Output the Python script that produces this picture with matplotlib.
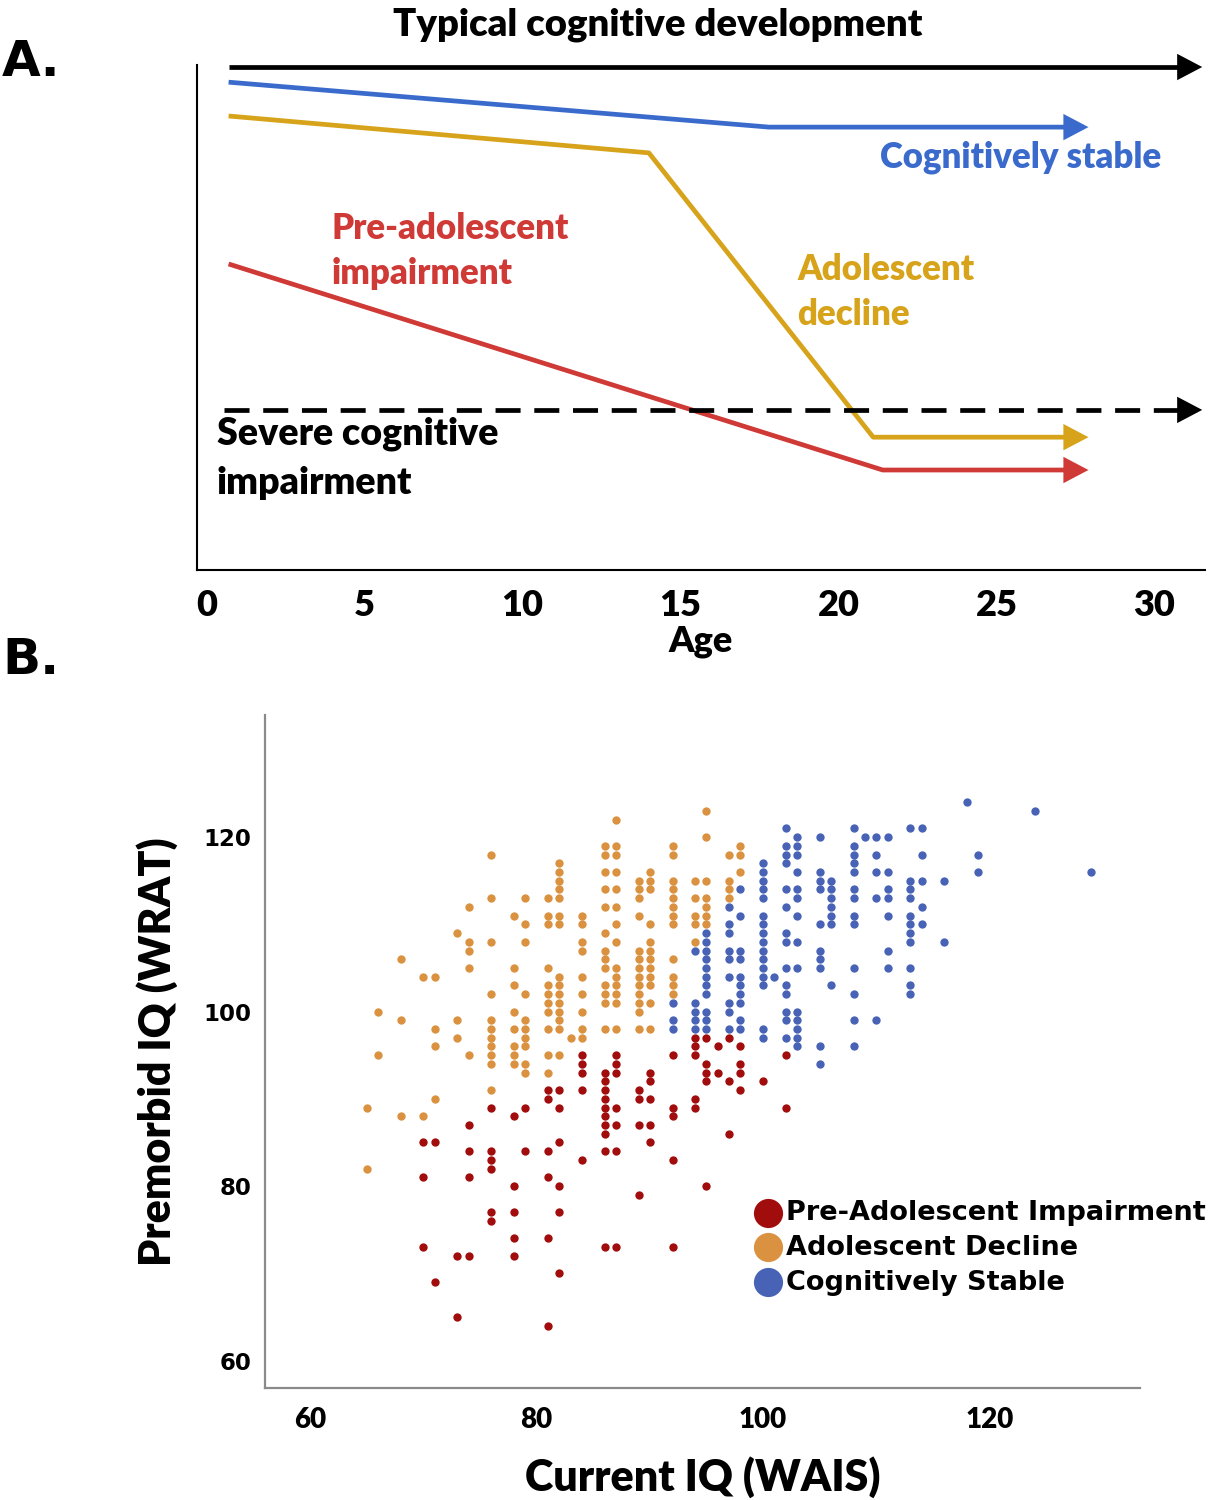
import matplotlib
matplotlib.use("Agg")
import matplotlib.pyplot as plt
import numpy as np

# ---------------- Panel A data (schematic trajectories) ----------------
age_ticks = [0, 5, 10, 15, 20, 25, 30]
typical_age = [0.7, 31.6]
typical_score = [99.6, 99.6]
stable_age = [0.7, 17.8, 28.0]
stable_score = [96.6, 87.7, 87.7]
adol_age = [0.7, 14.0, 21.1, 28.0]
adol_score = [89.9, 82.6, 26.3, 26.3]
pre_age = [0.7, 21.4, 28.0]
pre_score = [60.6, 19.8, 19.8]
severe_age = [0.55, 31.6]
severe_score = [31.7, 31.7]

# ---------------- Panel B data (current IQ -> list of premorbid IQs) ----------------
orange_cols = {
    65: [89, 82], 66: [100, 95], 68: [106, 99, 88], 70: [104, 88],
    71: [104, 98, 96, 90], 73: [109, 99, 97], 74: [112, 108, 107, 105, 95],
    76: [118, 113, 108, 102, 99, 98, 97, 96, 95, 94, 91],
    78: [111, 105, 103, 100, 98, 96, 95, 94],
    79: [113, 110, 108, 102, 99, 98, 97, 96, 94, 93],
    81: [113, 111, 110, 105, 103, 102, 101, 100, 98, 95, 93],
    82: [117, 116, 115, 114, 113, 111, 110, 104, 103, 102, 101, 100, 99, 98, 95],
    83: [97],
    84: [111, 110, 108, 107, 104, 102, 100, 98, 97],
    86: [119, 118, 116, 114, 112, 109, 107, 106, 105, 103, 102, 101, 98],
    87: [122, 119, 118, 116, 114, 112, 110, 108, 105, 104, 103, 102, 101, 98],
    89: [115, 114, 113, 111, 107, 106, 105, 104, 103, 102, 101, 100, 98],
    90: [116, 115, 114, 110, 108, 107, 106, 105, 104, 103, 101, 98],
    92: [119, 118, 115, 114, 113, 112, 111, 110, 106, 104, 103, 102],
    94: [115, 113, 111, 110, 108],
    95: [123, 120, 115, 113, 112, 111, 110],
    97: [118, 115, 114, 113],
    98: [119, 118, 116],
}
red_cols = {
    70: [85, 81, 73], 71: [85, 69], 73: [72, 65], 74: [87, 84, 81, 72],
    76: [89, 84, 83, 82, 77, 76], 78: [88, 80, 77, 74, 72], 79: [89, 84],
    81: [91, 90, 84, 81, 74, 64], 82: [91, 89, 85, 80, 77, 70],
    84: [95, 94, 93, 91, 83],
    86: [93, 92, 91, 90, 89, 88, 87, 86, 84, 73],
    87: [95, 94, 93, 89, 87, 84, 73], 89: [91, 90, 87, 79],
    90: [93, 92, 90, 87, 85], 92: [95, 89, 88, 83, 73],
    94: [97, 96, 95, 90, 89], 95: [97, 94, 93, 92, 80], 96: [96, 93],
    97: [97, 92, 86], 98: [96, 94, 93, 91], 100: [92], 102: [95, 89],
}
blue_cols = {
    92: [101, 99, 98], 94: [107, 101, 100, 99, 98],
    95: [109, 108, 107, 106, 105, 104, 103, 102, 100, 99, 98],
    97: [112, 110, 109, 107, 106, 104, 101, 100, 98],
    98: [114, 111, 107, 106, 104, 103, 102, 101, 99, 98],
    100: [117, 116, 115, 114, 113, 111, 110, 109, 108, 107, 106, 105, 104, 103, 98, 97],
    101: [104],
    102: [121, 119, 118, 117, 114, 112, 109, 108, 105, 103, 102, 100, 99, 97],
    103: [120, 119, 118, 116, 114, 113, 111, 108, 105, 100, 99, 98, 97, 96],
    105: [120, 116, 115, 114, 110, 107, 106, 105, 96, 94],
    106: [115, 114, 113, 112, 111, 110, 103],
    108: [121, 119, 118, 117, 116, 114, 113, 111, 110, 105, 102, 99, 96],
    109: [120], 110: [120, 118, 116, 113, 99],
    111: [120, 116, 114, 113, 111, 107, 105],
    113: [121, 115, 114, 113, 111, 110, 109, 108, 105, 103, 102],
    114: [121, 118, 115, 112, 110], 116: [115, 108], 118: [124],
    119: [118, 116], 124: [123], 129: [116],
}
iq_ticks = [60, 80, 100, 120]
group_labels = ["Pre-Adolescent Impairment", "Adolescent Decline", "Cognitively Stable"]


def flatten(cols):
    xs, ys = [], []
    for k, vals in cols.items():
        for v in vals:
            xs.append(k)
            ys.append(v)
    return np.array(xs), np.array(ys)


C_BLUE_A = "#3a6bcc"
C_GOLD_A = "#d6a31a"
C_RED_A = "#cf3a36"
C_RED_B = "#a10d0d"
C_ORANGE_B = "#da9240"
C_BLUE_B = "#4863b6"

FONT_A = "Lato"
W = "heavy"

fig = plt.figure(figsize=(12.22, 15.0), dpi=100)
fig.patch.set_facecolor("white")

# ---------------- Panel A ----------------
axA = fig.add_axes([197 / 1222, 1 - 570 / 1500, (1205 - 197) / 1222, (570 - 65) / 1500])
axA.set_xlim(-0.30, 31.6)
axA.set_ylim(0, 100)
for s in ["top", "right"]:
    axA.spines[s].set_visible(False)
axA.spines["left"].set_linewidth(1.5)
axA.spines["bottom"].set_linewidth(1.5)
axA.set_yticks([])
axA.set_xticks(age_ticks)
axA.tick_params(axis="x", length=0, pad=14)
for lab in axA.get_xticklabels():
    lab.set_fontfamily(FONT_A)
    lab.set_fontweight(W)
    lab.set_fontsize(26)
axA.set_xlabel("Age", fontfamily=FONT_A, fontweight=W, fontsize=26, labelpad=2)


def arrow_line(ax, xs, ys, color, dashes=None):
    kw = dict(color=color, lw=3.4, solid_capstyle="butt", zorder=3)
    px = xs[:-1] + [xs[-1] - 0.45]
    if dashes is not None:
        ax.plot(px, ys, dashes=dashes, **kw)
    else:
        ax.plot(px, ys, **kw)
    ax.annotate("", xy=(xs[-1], ys[-1]), xytext=(xs[-1] - 0.8, ys[-1]),
                arrowprops=dict(arrowstyle="-|>,head_length=0.95,head_width=0.5",
                                color=color, lw=0, mutation_scale=19),
                zorder=4, annotation_clip=False)


arrow_line(axA, typical_age, typical_score, "black")
arrow_line(axA, stable_age, stable_score, C_BLUE_A)
arrow_line(axA, adol_age, adol_score, C_GOLD_A)
arrow_line(axA, pre_age, pre_score, C_RED_A)
arrow_line(axA, severe_age, severe_score, "black", dashes=(5.3, 2.9))

fig.text(658 / 1222, 1 - 25 / 1500, "Typical cognitive development", ha="center", va="center",
         fontfamily=FONT_A, fontweight=W, fontsize=27.5)
fig.text(880 / 1222, 1 - 157 / 1500, "Cognitively stable", ha="left", va="center",
         fontfamily=FONT_A, fontweight=W, fontsize=25, color=C_BLUE_A)
fig.text(332 / 1222, 1 - 251 / 1500, "Pre-adolescent\nimpairment", ha="left", va="center",
         fontfamily=FONT_A, fontweight=W, fontsize=25, color=C_RED_A, linespacing=1.45)
fig.text(797 / 1222, 1 - 292 / 1500, "Adolescent\ndecline", ha="left", va="center",
         fontfamily=FONT_A, fontweight=W, fontsize=25, color=C_GOLD_A, linespacing=1.45)
fig.text(217 / 1222, 1 - 458 / 1500, "Severe cognitive\nimpairment", ha="left", va="center",
         fontfamily=FONT_A, fontweight=W, fontsize=27, color="black", linespacing=1.55)
fig.text(2 / 1222, 1 - 62 / 1500, "A.", ha="left", va="center", fontfamily="DejaVu Sans",
         fontweight="bold", fontsize=36)
fig.text(2 / 1222, 1 - 660 / 1500, "B.", ha="left", va="center", fontfamily="DejaVu Sans",
         fontweight="bold", fontsize=36)

# ---------------- Panel B ----------------
axB = fig.add_axes([265 / 1222, 1 - 1388 / 1500, (1140 - 265) / 1222, (1388 - 715) / 1500])
axB.set_xlim(56.0, 133.3)
axB.set_ylim(56.85, 134.0)
for s in ["top", "right"]:
    axB.spines[s].set_visible(False)
for s in ["left", "bottom"]:
    axB.spines[s].set_color("#8a8a8a")
    axB.spines[s].set_linewidth(1.6)

rx, ry = flatten(red_cols)
ox, oy = flatten(orange_cols)
bx, by = flatten(blue_cols)
axB.scatter(rx, ry, s=36, color=C_RED_B, linewidths=0, label=group_labels[0], zorder=3)
axB.scatter(ox, oy, s=36, color=C_ORANGE_B, linewidths=0, label=group_labels[1], zorder=3)
axB.scatter(bx, by, s=36, color=C_BLUE_B, linewidths=0, label=group_labels[2], zorder=3)

axB.set_xticks(iq_ticks)
axB.set_yticks(iq_ticks)
axB.tick_params(length=0)
axB.tick_params(axis="y", pad=10)
axB.tick_params(axis="x", pad=14)
for lab in axB.get_yticklabels():
    lab.set_fontfamily("DejaVu Sans")
    lab.set_fontweight("bold")
    lab.set_fontsize(16.5)
for lab in axB.get_xticklabels():
    lab.set_fontfamily(FONT_A)
    lab.set_fontweight(W)
    lab.set_fontsize(20)
axB.set_xlabel("Current IQ (WAIS)", fontfamily=FONT_A, fontweight=W, fontsize=31, labelpad=16)
axB.set_ylabel("Premorbid IQ (WRAT)", fontfamily=FONT_A, fontweight=W, fontsize=31, labelpad=18)

leg = axB.legend(loc="upper left", bbox_to_anchor=(0.550, 0.296), frameon=False,
                 markerscale=3.5, handletextpad=0.25, handlelength=0.8, labelspacing=0.33,
                 borderaxespad=0, prop={"family": "DejaVu Sans", "weight": "bold", "size": 19.5})

fig.savefig("out.png", dpi=100, facecolor="white")
